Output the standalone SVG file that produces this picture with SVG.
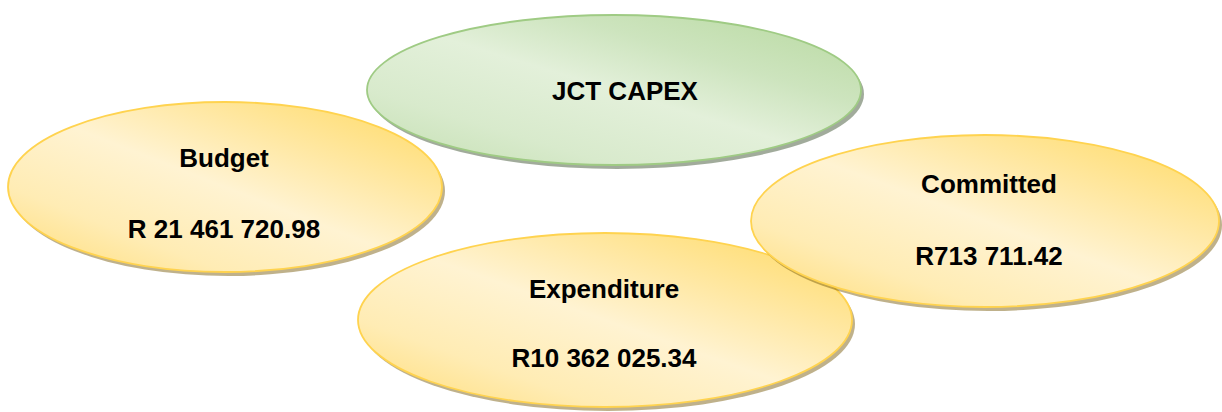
<svg xmlns="http://www.w3.org/2000/svg" width="1222" height="412" viewBox="0 0 1222 412">
  <defs>
    <linearGradient id="gY" x1="1" y1="0" x2="0" y2="1">
      <stop offset="0" stop-color="#ffd95f"/>
      <stop offset="0.3" stop-color="#ffe8a4"/>
      <stop offset="0.5" stop-color="#fff3d2"/>
      <stop offset="0.75" stop-color="#ffecb4"/>
      <stop offset="1" stop-color="#ffdc74"/>
    </linearGradient>
    <linearGradient id="gG" x1="1" y1="0" x2="0" y2="1">
      <stop offset="0" stop-color="#b7d99f"/>
      <stop offset="0.3" stop-color="#cde4be"/>
      <stop offset="0.5" stop-color="#e3f0da"/>
      <stop offset="0.75" stop-color="#d8eacc"/>
      <stop offset="1" stop-color="#c3dfb0"/>
    </linearGradient>
    <filter id="soft" x="-10%" y="-10%" width="120%" height="120%">
      <feGaussianBlur stdDeviation="0.7"/>
    </filter>
  </defs>
  <style>
    .y { fill: url(#gY); stroke: #ffd34f; stroke-width: 1.8; }
    .g { fill: url(#gG); stroke: #9fcb84; stroke-width: 1.8; }
    .ys { fill: #735500; opacity: 0.45; filter: url(#soft); }
    .gs { fill: #56684c; opacity: 0.55; filter: url(#soft); }
    text { font-family: "Liberation Sans", Arial, sans-serif; font-weight: bold; font-size: 26px; fill: #000; text-anchor: middle; }
  </style>
  <g id="connectors"></g>
  <g id="capex">
    <ellipse class="gs" cx="617" cy="94" rx="247" ry="75"/>
    <ellipse class="g" cx="614" cy="90" rx="247" ry="75"/>
    <text x="625" y="100">JCT CAPEX</text>
  </g>
  <g id="budget">
    <ellipse class="ys" cx="228" cy="191" rx="217" ry="85"/>
    <ellipse class="y" cx="225" cy="187" rx="217" ry="85"/>
    <text x="224" y="167">Budget</text>
    <text x="224" y="238">R 21 461 720.98</text>
  </g>
  <g id="expenditure">
    <ellipse class="ys" cx="608" cy="324" rx="247" ry="87"/>
    <ellipse class="y" cx="605" cy="320" rx="247" ry="87"/>
    <text x="604" y="298">Expenditure</text>
    <text x="604" y="367">R10 362 025.34</text>
  </g>
  <g id="committed">
    <ellipse class="ys" cx="988" cy="225" rx="234" ry="86"/>
    <ellipse class="y" cx="985" cy="221" rx="234" ry="86"/>
    <text x="989" y="193">Committed</text>
    <text x="989" y="265">R713 711.42</text>
  </g>
</svg>
